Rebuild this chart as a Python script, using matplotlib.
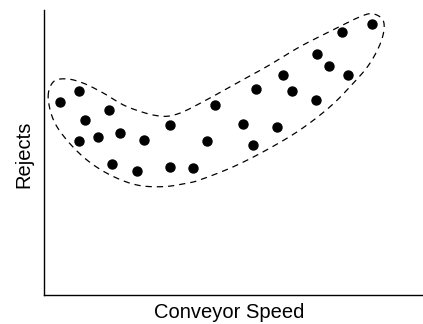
import numpy as np
import matplotlib.pyplot as plt

plt.rcParams['font.family'] = ['Liberation Sans', 'DejaVu Sans']

# Puntos del diagrama de dispersión
speed = [4.2, 9.3, 17.1, 10.8, 9.3, 14.3, 20.1, 26.4, 33.3, 45.1, 43.2, 18.0, 24.7, 33.3,
         39.3, 86.7, 78.8, 72.3, 75.4, 80.3, 63.3, 56.0, 65.7, 71.8, 52.6, 61.6, 55.2]
rejects = [67.8, 71.7, 65.0, 61.5, 53.9, 55.3, 56.8, 54.5, 59.5, 66.5, 53.9, 45.9, 43.6, 44.8,
           44.6, 95.0, 92.4, 84.7, 80.2, 77.3, 77.1, 72.4, 71.6, 68.4, 60.1, 58.9, 52.6]

# Contorno discontinuo alrededor de los puntos
outline_x = [1.1, 2.5, 6.0, 10.4, 15.6, 21.9, 29.8, 35.1, 42.1, 50.1, 58.9, 67.7, 76.5, 83.6,
             87.1, 89.8, 89.3, 86.2, 81.8, 75.7, 67.7, 58.9, 50.1, 41.3, 37.7, 31.6, 24.5,
             17.5, 11.3, 6.0, 2.5]
outline_y = [69.6, 74.8, 75.8, 74.3, 70.9, 66.1, 62.9, 63.4, 67.8, 73.7, 80.1, 87.1, 93.0, 97.6,
             98.6, 95.9, 89.5, 81.3, 74.3, 66.1, 57.9, 50.9, 45.0, 40.4, 39.2, 38.0, 38.6,
             42.1, 47.4, 54.4, 61.4]


def closed_spline(px, py, n=20):
    # Catmull-Rom cerrado para suavizar el contorno
    p = np.column_stack([px, py])
    m = len(p)
    out = []
    for i in range(m):
        p0, p1, p2, p3 = p[i - 1], p[i], p[(i + 1) % m], p[(i + 2) % m]
        t = np.linspace(0, 1, n, endpoint=False)[:, None]
        out.append(0.5 * ((2 * p1) + (-p0 + p2) * t + (2 * p0 - 5 * p1 + 4 * p2 - p3) * t**2
                          + (-p0 + 3 * p1 - 3 * p2 + p3) * t**3))
    out = np.vstack(out)
    return np.append(out[:, 0], out[0, 0]), np.append(out[:, 1], out[0, 1])


fig = plt.figure(figsize=(4.23, 3.24), dpi=100)
ax = fig.add_axes([0.104, 0.0895, 0.894, 0.880])

cx, cy = closed_spline(outline_x, outline_y)
ax.plot(cx, cy, color='black', lw=0.9, linestyle=(0, (5, 4)))
ax.scatter(speed, rejects, s=42, color='black', zorder=3)

ax.set_xlim(0, 100)
ax.set_ylim(0, 100)
ax.set_xticks([])
ax.set_yticks([])
ax.spines['top'].set_visible(False)
ax.spines['right'].set_visible(False)
ax.spines['left'].set_linewidth(1.0)
ax.spines['bottom'].set_linewidth(1.0)
ax.set_xlabel('Conveyor Speed', fontsize=14.5)
ax.set_ylabel('Rejects', fontsize=14.5)
ax.xaxis.set_label_coords(0.49, -0.028, transform=ax.transAxes)
ax.yaxis.set_label_coords(-0.029, 0.493, transform=ax.transAxes)

fig.savefig('out.png', dpi=100)
